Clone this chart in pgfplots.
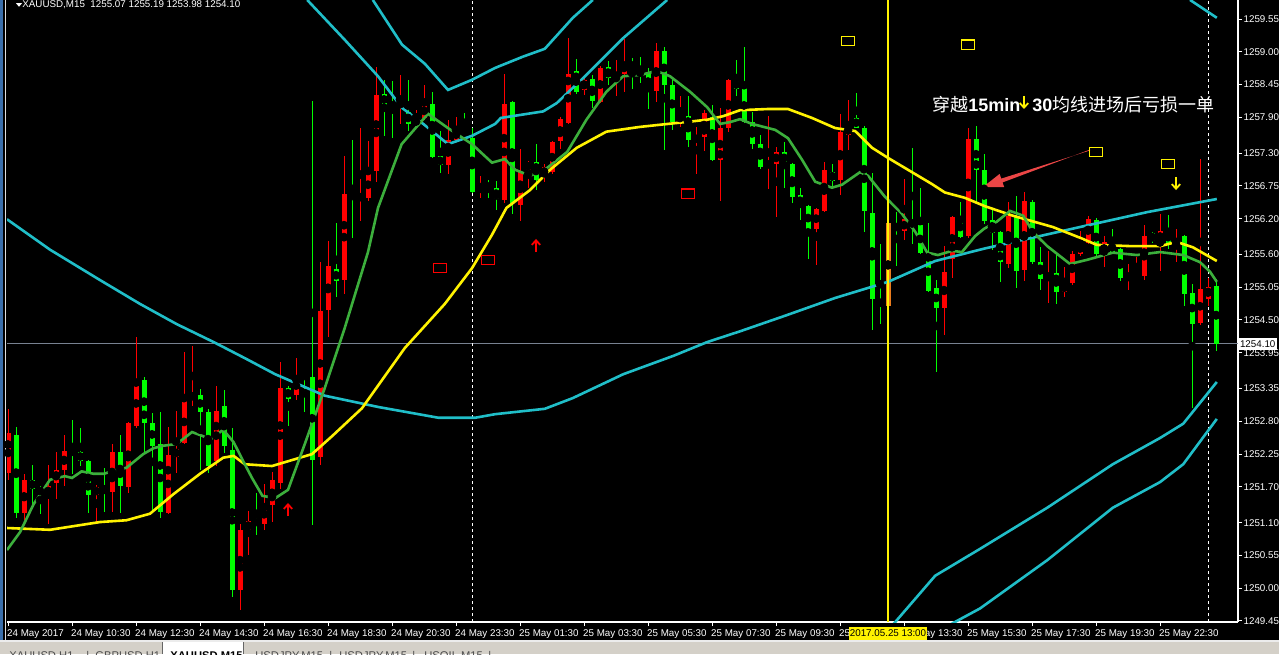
\documentclass[border=0pt]{standalone}
\usepackage{fontspec}
\setmainfont{Liberation Sans}
\newfontfamily\cjk{Noto Sans CJK SC}
\usepackage{pgfplots}
\pgfplotsset{compat=1.18}
\usepackage{pgfplotstable}
\usetikzlibrary{arrows.meta}

\definecolor{mtred}{RGB}{255,0,0}
\definecolor{mtgreen}{RGB}{0,255,0}
\definecolor{ma}{RGB}{60,175,60}
\definecolor{bb}{RGB}{32,190,200}
\definecolor{pline}{RGB}{120,130,145}
\definecolor{tabgray}{RGB}{212,208,200}
\definecolor{winblue}{RGB}{58,110,170}
\definecolor{arrred}{RGB}{235,70,70}
\newcommand\mtf{\fontsize{4.9}{5.5}\selectfont}

% plot marks for the chart objects
\pgfdeclareplotmark{box}{\pgfpathrectangle{\pgfpoint{-3.3pt}{-2.3pt}}{\pgfpoint{6.6pt}{4.6pt}}\pgfusepathqstroke}
\pgfdeclareplotmark{uparr}{%
  \pgfpathmoveto{\pgfpoint{0pt}{-3pt}}\pgfpathlineto{\pgfpoint{0pt}{2.6pt}}\pgfusepathqstroke
  \pgfpathmoveto{\pgfpoint{-2.1pt}{0.6pt}}\pgfpathlineto{\pgfpoint{0pt}{2.9pt}}\pgfpathlineto{\pgfpoint{2.1pt}{0.6pt}}\pgfusepathqstroke}
\pgfdeclareplotmark{dnarr}{%
  \pgfpathmoveto{\pgfpoint{0pt}{3pt}}\pgfpathlineto{\pgfpoint{0pt}{-2.6pt}}\pgfusepathqstroke
  \pgfpathmoveto{\pgfpoint{-2.1pt}{-0.6pt}}\pgfpathlineto{\pgfpoint{0pt}{-2.9pt}}\pgfpathlineto{\pgfpoint{2.1pt}{-0.6pt}}\pgfusepathqstroke}

% XAUUSD M15 candles: bar index, open, high, low, close
\pgfplotstableread{
k o h l c
0 1251.95 1253.02 1251.82 1252.62
1 1252.59 1252.72 1251.18 1251.28
2 1251.28 1251.92 1251.14 1251.82
3 1251.82 1252.08 1251.41 1251.68
4 1251.68 1251.72 1251.25 1251.60
5 1251.55 1252.08 1251.08 1251.72
6 1251.78 1252.29 1251.51 1252.00
7 1252.00 1252.57 1251.72 1252.32
8 1252.31 1252.82 1251.92 1252.29
9 1252.30 1252.69 1252.05 1252.14
10 1252.14 1252.16 1251.28 1251.58
11 1251.58 1251.74 1251.11 1251.70
12 1251.70 1252.02 1251.28 1251.64
13 1251.62 1252.42 1251.28 1252.29
14 1252.30 1252.59 1251.28 1251.72
15 1251.72 1252.80 1251.61 1252.79
16 1252.72 1254.23 1252.69 1253.49
17 1253.49 1253.56 1252.29 1252.77
18 1252.79 1252.96 1251.31 1252.39
19 1252.42 1252.96 1251.18 1251.28
20 1251.28 1252.72 1251.26 1252.25
21 1252.22 1252.99 1251.95 1252.35
22 1252.45 1253.96 1252.43 1253.16
23 1253.18 1254.08 1253.06 1253.26
24 1253.26 1253.35 1251.98 1252.96
25 1252.96 1253.02 1251.95 1252.05
26 1252.15 1253.39 1252.05 1252.99
27 1253.06 1253.35 1252.29 1252.39
28 1252.32 1252.69 1249.87 1249.97
29 1249.97 1251.08 1249.64 1250.98
30 1250.98 1251.31 1250.57 1251.14
31 1251.16 1251.61 1250.91 1251.08
32 1251.08 1251.76 1250.98 1251.40
33 1251.40 1251.95 1251.11 1251.82
34 1251.78 1253.80 1251.68 1253.37
35 1253.37 1253.39 1252.72 1253.19
36 1253.24 1253.86 1253.16 1253.57
37 1253.57 1253.58 1252.96 1253.55
38 1253.56 1258.19 1251.08 1252.17
39 1252.22 1255.47 1252.08 1254.67
40 1254.67 1255.84 1254.23 1255.41
41 1255.36 1256.14 1254.90 1255.16
42 1255.17 1257.25 1254.94 1256.61
43 1256.61 1257.52 1255.88 1256.57
44 1256.55 1257.73 1256.18 1256.58
45 1256.57 1257.52 1256.51 1257.00
46 1257.02 1258.76 1256.82 1258.29
47 1258.29 1258.53 1257.59 1258.11
48 1258.12 1258.51 1257.55 1258.10
49 1258.09 1258.61 1257.79 1258.16
50 1258.00 1258.54 1257.69 1257.79
51 1257.79 1258.04 1257.78 1257.89
52 1257.89 1258.45 1257.86 1258.14
53 1258.14 1258.34 1257.22 1257.24
54 1257.25 1257.69 1256.98 1257.10
55 1257.10 1257.86 1256.95 1257.52
56 1257.52 1257.91 1257.49 1257.71
57 1257.71 1257.97 1257.66 1257.67
58 1257.55 1257.72 1256.63 1256.65
59 1256.65 1256.92 1256.55 1256.77
60 1256.76 1256.86 1256.55 1256.73
61 1256.72 1256.85 1256.35 1256.53
62 1256.53 1258.64 1256.48 1258.14
63 1258.16 1258.18 1256.28 1256.48
64 1256.43 1257.39 1256.18 1256.98
65 1257.03 1257.18 1256.72 1257.15
66 1257.15 1257.45 1256.68 1256.86
67 1256.92 1257.12 1256.82 1257.08
68 1256.98 1257.52 1256.96 1257.49
69 1257.49 1257.92 1257.39 1257.86
70 1257.82 1259.23 1257.80 1258.64
71 1258.68 1258.88 1258.29 1258.34
72 1258.38 1258.61 1258.29 1258.55
73 1258.56 1258.62 1258.07 1258.18
74 1258.18 1258.77 1258.16 1258.75
75 1258.75 1258.85 1258.45 1258.56
76 1258.59 1258.86 1258.26 1258.65
77 1258.63 1259.23 1258.33 1258.84
78 1258.84 1258.91 1258.39 1258.72
79 1258.72 1258.93 1258.49 1258.61
80 1258.66 1258.75 1258.06 1258.34
81 1258.34 1259.15 1258.16 1259.01
82 1259.01 1259.10 1257.37 1258.45
83 1258.45 1258.55 1257.69 1257.82
84 1257.86 1258.26 1257.74 1257.94
85 1257.94 1258.26 1257.42 1257.53
86 1257.49 1257.76 1256.97 1257.59
87 1257.57 1258.03 1257.35 1257.98
88 1257.91 1258.11 1257.17 1257.19
89 1257.19 1258.07 1256.50 1257.72
90 1257.72 1258.56 1257.66 1258.53
91 1258.53 1258.86 1258.27 1258.38
92 1258.39 1259.08 1257.80 1257.82
93 1257.82 1257.99 1257.37 1257.45
94 1257.45 1257.62 1257.05 1257.08
95 1257.08 1257.92 1256.70 1257.15
96 1257.13 1257.42 1256.25 1257.33
97 1257.33 1257.49 1256.72 1257.12
98 1257.12 1257.14 1256.48 1256.58
99 1256.60 1256.72 1256.19 1256.41
100 1256.41 1256.43 1255.52 1256.01
101 1256.04 1256.39 1255.44 1256.37
102 1256.33 1257.15 1256.31 1257.02
103 1257.00 1257.13 1256.72 1256.85
104 1256.86 1257.96 1256.61 1257.66
105 1257.62 1258.19 1257.35 1257.76
106 1257.91 1258.31 1257.72 1257.74
107 1257.74 1257.76 1255.98 1256.35
108 1256.29 1256.97 1254.33 1254.85
109 1254.85 1255.78 1254.43 1254.76
110 1254.74 1256.14 1254.72 1256.12
111 1256.11 1256.31 1255.41 1256.01
112 1255.99 1256.88 1255.86 1256.19
113 1256.19 1257.39 1255.78 1256.06
114 1256.10 1256.72 1255.62 1255.64
115 1255.64 1256.14 1254.97 1255.00
116 1255.04 1255.17 1253.64 1254.70
117 1254.71 1255.74 1254.25 1255.31
118 1255.52 1256.25 1255.21 1256.23
119 1256.23 1256.48 1255.88 1255.91
120 1255.92 1257.74 1255.90 1257.55
121 1257.55 1257.76 1256.48 1257.03
122 1257.03 1257.29 1256.11 1256.17
123 1256.19 1256.38 1255.68 1255.98
124 1255.98 1256.00 1255.14 1255.47
125 1255.45 1256.48 1255.37 1256.25
126 1256.25 1256.58 1255.05 1255.34
127 1255.34 1256.66 1255.17 1256.51
128 1256.48 1256.51 1255.44 1255.47
129 1255.47 1255.72 1255.00 1255.19
130 1255.19 1255.66 1254.78 1255.29
131 1255.29 1255.61 1254.77 1254.97
132 1254.97 1255.41 1254.90 1255.12
133 1255.12 1255.66 1255.10 1255.61
134 1255.61 1255.99 1255.58 1255.81
135 1255.81 1256.25 1255.79 1256.21
136 1256.19 1256.22 1255.58 1255.61
137 1255.61 1255.91 1255.39 1255.82
138 1255.82 1256.04 1255.63 1255.65
139 1255.70 1255.72 1255.17 1255.21
140 1255.19 1255.44 1255.00 1255.29
141 1255.25 1255.57 1255.22 1255.33
142 1255.24 1256.10 1255.17 1255.92
143 1255.96 1255.98 1255.80 1255.83
144 1255.83 1256.28 1255.32 1256.01
145 1256.01 1256.28 1255.71 1255.79
146 1255.79 1256.04 1255.47 1255.84
147 1255.92 1255.94 1254.74 1254.94
148 1254.97 1255.10 1253.02 1254.45
149 1254.45 1257.22 1254.43 1255.02
150 1254.87 1255.21 1254.74 1255.07
151 1255.07 1255.19 1253.98 1254.10
}\candles

\begin{document}
\begin{tikzpicture}
\useasboundingbox (0,0) rectangle (639.5pt,327pt);
\fill[black] (0,0) rectangle (639.5pt,327pt);
% window frame and tab bar
\fill[winblue] (0,0) rectangle (1.5pt,327pt);
\draw[white!75!gray, line width=0.6pt] (2.8pt,6.5pt) -- (2.8pt,327pt);
\fill[tabgray] (0,0) rectangle (639.5pt,6.2pt);
\fill[white] (81pt,0) rectangle (121.5pt,6.4pt);
\draw[black!60, line width=0.5pt] (81pt,0) -- (81pt,6.4pt) (121.5pt,0) -- (121.5pt,6.4pt);
\draw[white!85!gray, line width=0.8pt] (0,6.6pt) -- (639.5pt,6.6pt);
\begin{scope}[every node/.style={anchor=base west, inner sep=0pt, font=\fontsize{5.6}{6.5}\selectfont, text=black!70}]
\node at (4.5pt,-2.6pt) {XAUUSD,H1};
\node at (43pt,-2.6pt) {|};
\node at (47.5pt,-2.6pt) {GBPUSD,H1};
\node[text=black] at (85pt,-2.6pt) {\bfseries XAUUSD,M15};
\node at (127.5pt,-2.6pt) {USDJPY,M15};
\node at (164.5pt,-2.6pt) {|};
\node at (169.5pt,-2.6pt) {USDJPY,M15};
\node at (206pt,-2.6pt) {|};
\node at (212pt,-2.6pt) {USOIL,M15};
\node at (244pt,-2.6pt) {|};
\end{scope}

\begin{axis}[
  at={(3.5pt,16pt)}, anchor=south west,
  scale only axis, width=615.5pt, height=311pt,
  xmin=-0.125, xmax=153.75, ymin=1249.433, ymax=1259.869,
  axis x line*=bottom, axis y line*=right,
  axis line style={white, line width=0.6pt, -},
  tick align=outside, major tick length=2pt,
  tick style={white, line width=0.5pt},
  xtick={0,8,...,144},
  xticklabels={24 May 2017,24 May 10:30,24 May 12:30,24 May 14:30,24 May 16:30,24 May 18:30,24 May 20:30,24 May 23:30,25 May 01:30,25 May 03:30,25 May 05:30,25 May 07:30,25 May 09:30,25 May 11:30,25 May 13:30,25 May 15:30,25 May 17:30,25 May 19:30,25 May 22:30},
  ytick={1249.45,1250.00,1250.55,1251.10,1251.70,1252.25,1252.80,1253.35,1253.95,1254.50,1255.05,1255.60,1256.20,1256.75,1257.30,1257.90,1258.45,1259.00,1259.55},
  yticklabels={1249.45,1250.00,1250.55,1251.10,1251.70,1252.25,1252.80,1253.35,1253.95,1254.50,1255.05,1255.60,1256.20,1256.75,1257.30,1257.90,1258.45,1259.00,1259.55},
  ticklabel style={font=\mtf, text=white},
  xticklabel style={anchor=north west, xshift=-0.6pt, inner sep=0pt, yshift=-1.6pt},
  yticklabel style={anchor=west, inner sep=0pt, xshift=0.6pt},
  clip=true,
  after end axis/.append code={
    \node[fill=yellow, text=black, font=\mtf, inner xsep=0.4pt, inner ysep=0pt, minimum height=6.4pt, anchor=north]
      at ([yshift=-2.4pt]axis cs:110,1249.433) {2017.05.25 13:00};
    \node[fill=white, text=black, font=\mtf, inner xsep=0.8pt, inner ysep=0pt, minimum height=6.2pt, anchor=west]
      at (axis cs:153.75,1254.10) {1254.10};
    \fill[white] ([xshift=4.5pt,yshift=-1.6pt]rel axis cs:0,1) -- ++(3pt,0) -- ++(-1.5pt,-1.8pt) -- cycle;
    \node[anchor=west, inner sep=0pt, text=white, font=\mtf] at ([xshift=7.5pt,yshift=-2.5pt]rel axis cs:0,1)
      {XAUUSD,M15\ \ 1255.07 1255.19 1253.98 1254.10};
  },
]
% current price line and day separators
\addplot[pline, line width=0.5pt] coordinates {(-0.125,1254.10) (153.75,1254.10)};
\addplot[white, line width=0.5pt, dash pattern=on 1.5pt off 1.5pt] coordinates {(58,1249.433) (58,1259.869)};
\addplot[white, line width=0.5pt, dash pattern=on 1.5pt off 1.5pt] coordinates {(150,1249.433) (150,1259.869)};

% candle wicks
\addplot[only marks, mark=none, restrict expr to domain={\thisrow{c}-\thisrow{o}}{0:100},
  error bars/.cd, y dir=both, y explicit, error mark=none, error bar style={mtred, line width=0.5pt}]
  table[x=k, y expr={(\thisrow{h}+\thisrow{l})/2}, y error expr={(\thisrow{h}-\thisrow{l})/2}] {\candles};
\addplot[only marks, mark=none, restrict expr to domain={\thisrow{o}-\thisrow{c}}{0.001:100},
  error bars/.cd, y dir=both, y explicit, error mark=none, error bar style={mtgreen, line width=0.5pt}]
  table[x=k, y expr={(\thisrow{h}+\thisrow{l})/2}, y error expr={(\thisrow{h}-\thisrow{l})/2}] {\candles};
% candle bodies
\addplot[only marks, mark=none, restrict expr to domain={\thisrow{c}-\thisrow{o}}{0:100},
  error bars/.cd, y dir=both, y explicit, error mark=none, error bar style={mtred, line width=2.5pt}]
  table[x=k, y expr={(\thisrow{o}+\thisrow{c})/2}, y error expr={max(abs(\thisrow{c}-\thisrow{o})/2,0.009)}] {\candles};
\addplot[only marks, mark=none, restrict expr to domain={\thisrow{o}-\thisrow{c}}{0.001:100},
  error bars/.cd, y dir=both, y explicit, error mark=none, error bar style={mtgreen, line width=2.5pt}]
  table[x=k, y expr={(\thisrow{o}+\thisrow{c})/2}, y error expr={max(abs(\thisrow{c}-\thisrow{o})/2,0.009)}] {\candles};
% the bar under the cursor line
\addplot[only marks, mark=none, error bars/.cd, y dir=both, y explicit, error mark=none,
  error bar style={color={rgb,255:red,235;green,125;blue,30}, line width=2.5pt}]
  coordinates {(110,1255.43) +- (0,0.69)};

% bands
\addplot[bb, line width=1.3pt] coordinates {(-0.125,1256.19) (5.25,1255.68) (11.5,1255.17) (16.5,1254.77) (21.1,1254.43) (25.7,1254.13) (29.6,1253.86) (33.4,1253.59) (39.6,1253.23) (46.3,1253.04) (53.8,1252.86) (58.4,1252.86) (60.9,1252.92) (67.1,1253.01) (70.6,1253.19) (76.9,1253.59) (83.2,1253.90) (87.4,1254.13) (91.5,1254.31) (97.1,1254.57) (103.4,1254.87) (110,1255.14) (115.9,1255.49) (122.1,1255.70) (134,1256.06) (142.4,1256.31) (151.1,1256.53)};
\addplot[bb, line width=1.3pt] coordinates {(37.4,1259.87) (42.1,1259.20) (46.25,1258.59) (49.25,1258.06) (52,1257.78) (55,1257.45) (58,1257.59) (60.9,1257.79) (61.6,1257.89) (66.9,1258.00) (68.6,1258.14) (71.9,1258.56) (76.9,1259.23) (82.4,1259.87)};
\addplot[bb, line width=1.3pt] coordinates {(45.6,1259.87) (49.25,1259.12) (52.1,1258.80) (55,1258.36) (58,1258.53) (60.9,1258.73) (64.4,1258.92) (67.1,1259.05) (70.6,1259.57) (73.1,1259.87)};
\addplot[bb, line width=1.3pt] coordinates {(147.75,1259.87) (151.1,1259.57)};
\addplot[bb, line width=1.3pt] coordinates {(110.5,1249.37) (115.9,1250.21) (121.5,1250.66) (129.9,1251.35) (138.1,1252.08) (144,1252.52) (146.9,1252.76) (151.1,1253.46)};
\addplot[bb, line width=1.3pt] coordinates {(117.5,1249.37) (121.5,1249.66) (129.9,1250.47) (138.1,1251.35) (144,1251.78) (146.9,1252.08) (151.1,1252.84)};

% slow average
\addplot[yellow, line width=1.3pt] coordinates {(-0.125,1251.01) (5.25,1250.98) (11.5,1251.11) (14.8,1251.14) (17.75,1251.25) (20.7,1251.58) (24,1251.92) (26.9,1252.19) (28.2,1252.22) (29.6,1252.08) (33,1252.05) (38,1252.25) (40.5,1252.55) (44.25,1253.02) (49.6,1254.03) (54.6,1254.77) (58,1255.37) (60.5,1255.93) (62.3,1256.38) (65.25,1256.68) (67.75,1257.02) (71.1,1257.39) (74.8,1257.66) (79,1257.74) (83.2,1257.80) (87.4,1257.86) (89.4,1257.92) (91.5,1258.02) (95,1258.04) (97.5,1258.04) (100.5,1257.89) (103.4,1257.72) (105.9,1257.67) (108,1257.39) (110,1257.22) (112.5,1257.02) (115.5,1256.78) (117.1,1256.64) (119.6,1256.55) (122.1,1256.41) (125.6,1256.25) (130.6,1256.06) (134,1255.88) (136.1,1255.76) (140.25,1255.74) (144,1255.74) (146.1,1255.81) (148.1,1255.72) (151.1,1255.49)};
% fast average
\addplot[ma, line width=1.3pt] coordinates {(-0.125,1250.64) (1.5,1250.94) (3.2,1251.41) (5.25,1251.82) (7.1,1251.88) (8,1251.85) (9.2,1251.96) (10.7,1251.92) (12,1251.92) (13.4,1251.98) (14.8,1252.02) (16.9,1252.25) (18.2,1252.35) (19.4,1252.39) (21.1,1252.42) (23,1252.62) (24.4,1252.55) (25.25,1252.49) (26.9,1252.66) (28.2,1252.45) (29.6,1252.08) (30.5,1251.85) (31.8,1251.55) (33.4,1251.51) (35,1251.65) (37.1,1252.42) (39.6,1253.36) (42.1,1254.37) (45,1255.64) (46.25,1256.38) (49.2,1257.45) (52.5,1257.96) (55,1257.72) (58,1257.45) (60.5,1257.14) (62.1,1257.20) (63.4,1257.02) (65.25,1256.92) (67.1,1257.02) (69.9,1257.32) (72.3,1257.86) (74.8,1258.33) (76.9,1258.59) (79,1258.61) (81.1,1258.68) (82.75,1258.59) (85.25,1258.33) (87.4,1258.07) (89,1257.79) (90.25,1257.82) (91.5,1257.87) (93,1257.79) (95.9,1257.69) (97.5,1257.55) (99.25,1257.19) (100.9,1256.82) (103,1256.72) (104.25,1256.77) (106.5,1256.98) (107.5,1256.92) (109.6,1256.57) (111.75,1256.28) (113.4,1255.98) (114.9,1255.63) (116.25,1255.59) (118,1255.66) (119.25,1255.64) (120.9,1255.91) (122,1256.03) (123.6,1256.15) (125.25,1256.33) (126.9,1256.25) (128.1,1255.98) (129.9,1255.74) (132.75,1255.44) (134.9,1255.51) (138.1,1255.63) (141.1,1255.59) (144,1255.64) (146.9,1255.59) (149,1255.47) (150.25,1255.31) (151.1,1255.14)};

% cursor line
\addplot[yellow, line width=0.7pt] coordinates {(110,1249.433) (110,1259.869)};

% chart objects
\addplot[only marks, mark=box, mtred, mark options={line width=0.6pt}] coordinates {(54,1255.37) (60,1255.51) (85,1256.62)};
\addplot[only marks, mark=box, yellow, mark options={line width=0.6pt}] coordinates {(105,1259.18) (120,1259.12) (136,1257.32) (145,1257.12)};
\addplot[only marks, mark=uparr, mtred, mark options={line width=0.9pt}] coordinates {(35,1251.31) (66,1255.74)};
% tapered red arrow pointing at the entry bar
\addplot[fill=arrred, draw=none] coordinates {(135.25,1257.36) (135.25,1257.344) (124.156,1256.872) (123.95,1256.951) (121.875,1256.731) (124.525,1256.730) (124.319,1256.808) (135.25,1257.36)} -- cycle;
\node[anchor=west, inner sep=0pt, text=white, font=\cjk\fontsize{9}{10}\selectfont] at (axis cs:115.5,1258.12)
  {穿越{\rmfamily\bfseries 15min}\hspace{6pt}{\rmfamily\bfseries 30}均线进场后亏损一单};
\addplot[only marks, mark=dnarr, yellow, mark options={line width=0.9pt}] coordinates {(127,1258.16) (146,1256.80)};
\end{axis}
\end{tikzpicture}
\end{document}
